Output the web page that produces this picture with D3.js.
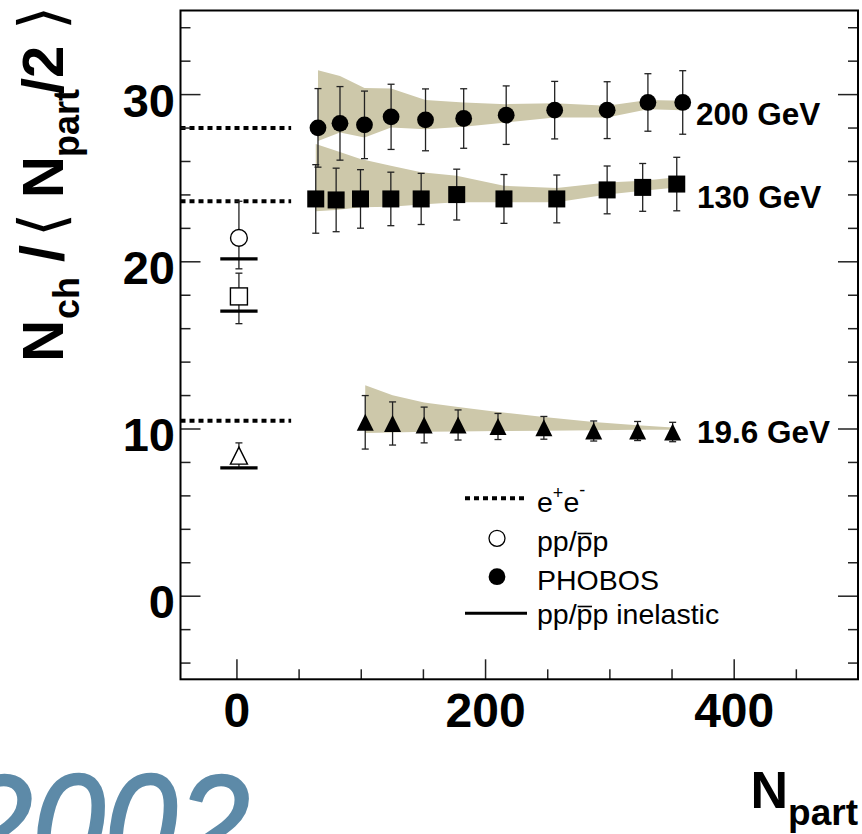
<!DOCTYPE html>
<html>
<head>
<meta charset="utf-8">
<script src="https://cdn.jsdelivr.net/npm/d3@7"></script>
<style>
  html, body { margin: 0; padding: 0; background: #fff; }
  svg { display: block; }
  text { font-family: "Liberation Sans", Arial, Helvetica, sans-serif; }
</style>
</head>
<body>
<svg id="chart" width="862" height="834"></svg>
<script>
// ---------------- data ----------------
// PHOBOS 200 GeV
const npart200 = [65.6, 83.3, 103.0, 124.4, 152.1, 182.8, 217.0, 256.0, 298.2, 331.0, 359.0];
const nch200   = [27.98, 28.25, 28.16, 28.64, 28.46, 28.54, 28.74, 29.04, 29.04, 29.50, 29.50];
const err200   = [2.35, 2.20, 2.02, 1.95, 1.85, 1.78, 1.75, 1.72, 1.70, 1.72, 1.90];
const sysHi200 = [31.43, 31.09, 30.37, 30.34, 29.64, 29.50, 29.40, 29.46, 29.30, 29.64, 29.60];
const sysLo200 = [27.20, 27.70, 27.40, 28.00, 27.90, 28.04, 28.30, 28.60, 28.60, 29.10, 29.04];
// PHOBOS 130 GeV
const npart130 = [63.8, 80.2, 99.8, 124.2, 148.6, 177.2, 215.2, 257.7, 298.2, 326.8, 354.2];
const nch130   = [23.73, 23.67, 23.73, 23.73, 23.73, 23.99, 23.73, 23.73, 24.27, 24.42, 24.62];
const err130   = [2.05, 1.90, 1.75, 1.60, 1.53, 1.52, 1.46, 1.43, 1.43, 1.43, 1.60];
const sysHi130 = [27.01, 26.61, 26.12, 25.72, 25.32, 25.12, 24.52, 24.39, 24.72, 24.82, 25.02];
const sysLo130 = [22.99, 23.07, 23.23, 23.27, 23.39, 23.53, 23.53, 23.53, 23.99, 24.22, 24.42];
// PHOBOS 19.6 GeV
const npart19 = [103.6, 125.6, 151.0, 178.3, 210.4, 247.3, 287.4, 322.7, 350.9];
const nch19   = [10.37, 10.30, 10.21, 10.21, 10.12, 10.04, 9.85, 9.85, 9.79];
const err19   = [1.60, 1.29, 1.07, 0.90, 0.78, 0.68, 0.60, 0.57, 0.58];
const sysHi19 = [12.58, 11.99, 11.55, 11.29, 10.99, 10.69, 10.39, 10.19, 10.06];
const sysLo19 = [9.73, 9.76, 9.80, 9.82, 9.85, 9.87, 9.90, 9.92, 9.93];
// e+e- levels (200, 130, 19.6 GeV), drawn over Npart range eeRange
const eeVals  = [27.97, 23.59, 10.47];
const eeRange = [-45, 44];
// pp / ppbar at Npart = 2  (200, 130, 19.6 GeV)
const ppNpart  = 2;
const ppVals   = [21.40, 17.90, 8.38];
const ppErrUp  = [2.19, 1.39, 0.76];
const ppErrDn  = [1.85, 1.63, 0.76];
const ppInel   = [20.15, 17.02, 7.64];
const inelHalf = 15;
// text
const seriesLabels = ["200 GeV", "130 GeV", "19.6 GeV"];
const xTicks = [0, 200, 400];
const xMinor = [50, 100, 150, 250, 300, 350, 450];
const yTicks = [0, 10, 20, 30];
const yMinor = [-4, -2, 2, 4, 6, 8, 12, 14, 16, 18, 22, 24, 26, 28, 32, 34];
const xDomain = [-45, 500];
const yDomain = [-5, 35];

// ---------------- layout ----------------
const svg = d3.select("#chart");
const L = 180.5, R = 858, T = 10.5, B = 679.3;
const x = d3.scaleLinear().domain(xDomain).range([L, R]);
const y = d3.scaleLinear().domain(yDomain).range([B, T]);
const bandColor = "#cdc8aa";
const ebColor = "#222";

const plot = svg.append("g");

// systematic bands
const area = d3.area().x(d => x(d.n)).y0(d => y(d.lo)).y1(d => y(d.hi));
[[npart200, sysLo200, sysHi200], [npart130, sysLo130, sysHi130], [npart19, sysLo19, sysHi19]]
  .forEach(([np, lo, hi]) => {
    plot.append("path")
      .datum(np.map((n, i) => ({n, lo: lo[i], hi: hi[i]})))
      .attr("d", area).attr("fill", bandColor).attr("stroke", "none");
  });

// e+e- dotted lines
eeVals.forEach(v => {
  plot.append("line")
    .attr("x1", x(eeRange[0])).attr("x2", x(eeRange[1]))
    .attr("y1", y(v)).attr("y2", y(v))
    .attr("stroke", "#000").attr("stroke-width", 4).attr("stroke-dasharray", "5,4");
});

// error bars
function errBars(np, v, eu, ed) {
  const g = plot.append("g").attr("stroke", ebColor).attr("stroke-width", 1.3);
  np.forEach((n, i) => {
    const cx = x(n), top = y(v[i] + eu[i]), bot = y(v[i] - ed[i]);
    g.append("line").attr("x1", cx).attr("x2", cx).attr("y1", top).attr("y2", bot);
    g.append("line").attr("x1", cx - 3.5).attr("x2", cx + 3.5).attr("y1", top).attr("y2", top);
    g.append("line").attr("x1", cx - 3.5).attr("x2", cx + 3.5).attr("y1", bot).attr("y2", bot);
  });
}
errBars(npart200, nch200, err200, err200);
errBars(npart130, nch130, err130, err130);
errBars(npart19, nch19, err19, err19);
errBars(ppVals.map(() => ppNpart), ppVals, ppErrUp, ppErrDn);

// pp inelastic bars
ppInel.forEach(v => {
  plot.append("line")
    .attr("x1", x(ppNpart - inelHalf)).attr("x2", x(ppNpart + inelHalf))
    .attr("y1", y(v)).attr("y2", y(v))
    .attr("stroke", "#000").attr("stroke-width", 3.2);
});

// markers
const tri = s => `M0,${-s/2}L${s/2},${s/2}L${-s/2},${s/2}Z`;
function markers(np, v, shape, open) {
  const g = plot.append("g");
  np.forEach((n, i) => {
    const cx = x(n), cy = y(v[i]);
    let m;
    if (shape === "circle") m = g.append("circle").attr("cx", cx).attr("cy", cy).attr("r", 8.4);
    else if (shape === "square") m = g.append("rect").attr("x", cx - 8.5).attr("y", cy - 8.5).attr("width", 17).attr("height", 17);
    else m = g.append("path").attr("d", tri(17)).attr("transform", `translate(${cx},${cy})`);
    if (open) m.attr("fill", "#fff").attr("stroke", "#000").attr("stroke-width", 1.4);
    else m.attr("fill", "#000");
  });
}
markers(npart200, nch200, "circle", false);
markers(npart130, nch130, "square", false);
markers(npart19, nch19, "triangle", false);
markers([ppNpart], [ppVals[0]], "circle", true);
markers([ppNpart], [ppVals[1]], "square", true);
markers([ppNpart], [ppVals[2]], "triangle", true);

// series labels
const labelPos = [[696, 125], [697, 208], [697, 443]];
seriesLabels.forEach((t, i) => {
  svg.append("text").attr("x", labelPos[i][0]).attr("y", labelPos[i][1])
    .attr("font-size", 31.5).attr("font-weight", "bold").text(t);
});

// ---------------- axes ----------------
const axG = svg.append("g");
const xa = axG.append("g").attr("transform", `translate(0,${B})`)
  .call(d3.axisBottom(x).tickValues(xTicks).tickSize(-20).tickFormat(d3.format("d")));
axG.append("g").attr("transform", `translate(0,${B})`)
  .call(d3.axisBottom(x).tickValues(xMinor).tickSize(-10).tickFormat(""));
const ya = axG.append("g").attr("transform", `translate(${L},0)`)
  .call(d3.axisLeft(y).tickValues(yTicks).tickSize(-20).tickFormat(d3.format("d")));
axG.append("g").attr("transform", `translate(${L},0)`)
  .call(d3.axisLeft(y).tickValues(yMinor).tickSize(-10).tickFormat(""));
axG.append("g").attr("transform", `translate(${R},0)`)
  .call(d3.axisRight(y).tickValues(yTicks).tickSize(-20).tickFormat(""));
axG.append("g").attr("transform", `translate(${R},0)`)
  .call(d3.axisRight(y).tickValues(yMinor).tickSize(-10).tickFormat(""));
axG.selectAll(".domain").remove();
axG.selectAll(".tick line").attr("stroke", "#222").attr("stroke-width", 1.5);
xa.selectAll("text").attr("y", 48).attr("dy", null)
  .attr("font-size", 48).attr("font-weight", "bold").attr("fill", "#000")
  .attr("font-family", "Liberation Sans, Arial, sans-serif");
ya.selectAll("text").attr("x", -5.5).attr("y", 22).attr("dy", null)
  .attr("font-size", 47).attr("font-weight", "bold").attr("fill", "#000")
  .attr("font-family", "Liberation Sans, Arial, sans-serif");

// frame
svg.append("rect").attr("x", L).attr("y", T).attr("width", R - L).attr("height", B - T)
  .attr("fill", "none").attr("stroke", "#000").attr("stroke-width", 2);

// ---------------- legend ----------------
const lg = svg.append("g");
const lx0 = 465, lx1 = 527, lmx = 497, ltx = 537;
lg.append("line").attr("x1", lx0).attr("x2", lx1).attr("y1", 498.3).attr("y2", 498.3)
  .attr("stroke", "#000").attr("stroke-width", 4).attr("stroke-dasharray", "5,4");
lg.append("circle").attr("cx", lmx).attr("cy", 538.3).attr("r", 8)
  .attr("fill", "#fff").attr("stroke", "#000").attr("stroke-width", 1.3);
lg.append("circle").attr("cx", lmx).attr("cy", 576.7).attr("r", 8.4).attr("fill", "#000");
lg.append("line").attr("x1", lx0).attr("x2", lx1).attr("y1", 613.3).attr("y2", 613.3)
  .attr("stroke", "#000").attr("stroke-width", 3);
const lfs = 28.5;
const t1 = lg.append("text").attr("x", ltx).attr("y", 512).attr("font-size", lfs);
t1.append("tspan").text("e");
t1.append("tspan").attr("font-size", 18).attr("dy", -13).text("+");
t1.append("tspan").attr("dy", 13).text("e");
t1.append("tspan").attr("font-size", 18).attr("dy", -16).text("-");
function ppText(yb, str) {
  const t = lg.append("text").attr("x", ltx).attr("y", yb).attr("font-size", lfs).text(str);
  // overline over the anti-proton "p" (4th character)
  const e = t.node().getExtentOfChar(3);
  lg.append("line").attr("x1", e.x + 1).attr("x2", e.x + e.width - 0.5)
    .attr("y1", yb - 17.5).attr("y2", yb - 17.5)
    .attr("stroke", "#000").attr("stroke-width", 1.6);
}
ppText(551, "pp/pp");
lg.append("text").attr("x", ltx).attr("y", 590).attr("font-size", lfs).text("PHOBOS");
ppText(624, "pp/pp inelastic");

// ---------------- titles ----------------
const xt = svg.append("text").attr("x", 858).attr("y", 808).attr("text-anchor", "end")
  .attr("font-weight", "bold").attr("font-size", 52);
xt.append("tspan").text("N");
xt.append("tspan").attr("font-size", 37).attr("dy", 17).text("part");

// y title, rotated; tspans placed along the (rotated) baseline
const yt = svg.append("text").attr("transform", "rotate(-90)").attr("y", 63)
  .attr("font-weight", "bold").attr("font-size", 58);
yt.append("tspan").attr("x", -361.7).text("N");
yt.append("tspan").attr("x", -319).attr("font-size", 36).attr("dy", 16).text("ch");
yt.append("tspan").attr("x", -262).attr("dy", -16).attr("font-size", 62).text("/");
yt.append("tspan").attr("x", -237).attr("font-family", "DejaVu Sans").attr("font-weight", "normal")
  .attr("font-size", 62).text("\u27E8");
yt.append("tspan").attr("x", -198).text("N");
yt.append("tspan").attr("x", -157).attr("font-size", 36).attr("dy", 16).text("part");
yt.append("tspan").attr("x", -94).attr("dy", -16).text("/2");
yt.append("tspan").attr("x", -30).attr("font-family", "DejaVu Sans").attr("font-weight", "normal")
  .attr("font-size", 62).text("\u27E9");

// watermark
svg.append("text").attr("transform", "translate(-40,872) scale(0.93,1)")
  .attr("font-family", "DejaVu Sans").attr("font-style", "italic")
  .attr("font-size", 140).attr("fill", "#5d8aa8")
  .attr("stroke", "#5d8aa8").attr("stroke-width", 2.5).attr("stroke-linejoin", "round")
  .text("2002");
</script>
</body>
</html>
